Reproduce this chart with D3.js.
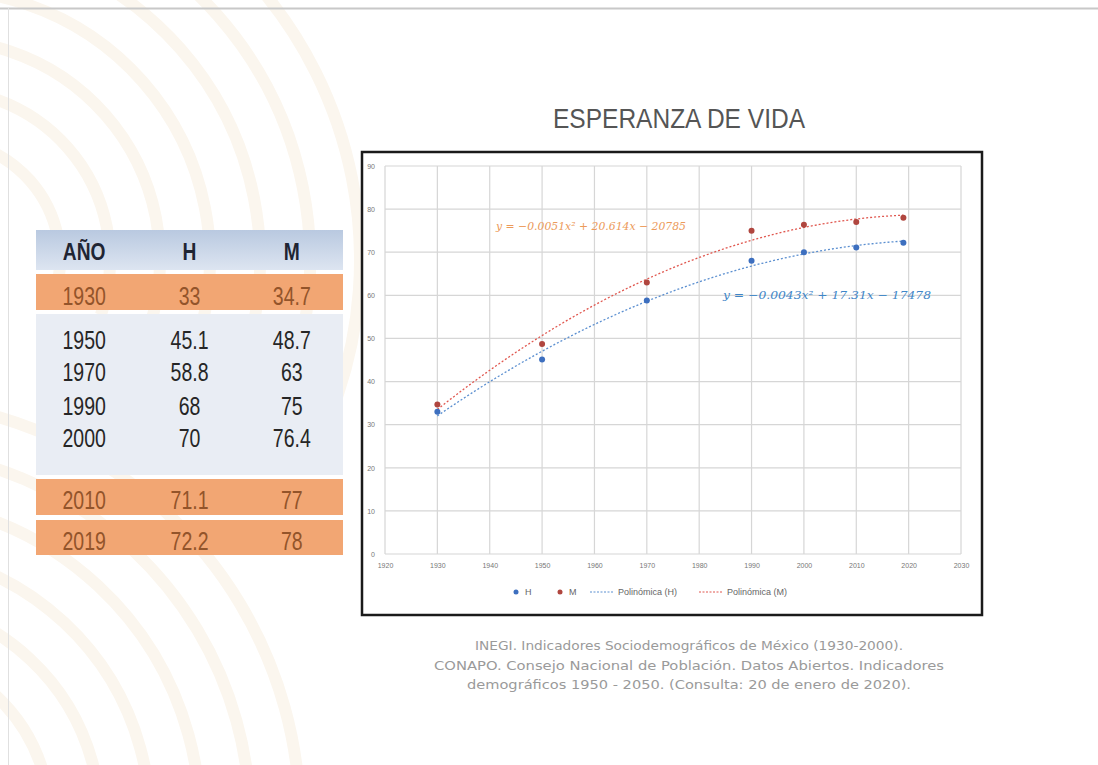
<!DOCTYPE html>
<html><head><meta charset="utf-8">
<script src="https://cdn.jsdelivr.net/npm/d3@7"></script>
<style>body{margin:0;background:#fff;} svg{display:block;}</style>
</head><body>
<svg id="c" width="1098" height="765"></svg>
<script>
const years = [1930, 1950, 1970, 1990, 2000, 2010, 2019];
const valuesH = [33, 45.1, 58.8, 68, 70, 71.1, 72.2];
const valuesM = [34.7, 48.7, 63, 75, 76.4, 77, 78];
const tableHeader = ["AÑO", "H", "M"];
const tableRowStyle = ["orange", "plain", "plain", "plain", "plain", "orange", "orange"];
const xTicks = [1920, 1930, 1940, 1950, 1960, 1970, 1980, 1990, 2000, 2010, 2020, 2030];
const yTicks = [0, 10, 20, 30, 40, 50, 60, 70, 80, 90];
const eqM = "y = −0.0051x² + 20.614x − 20785";
const eqH = "y = −0.0043x² + 17.31x − 17478";
const legendLabels = ["H", "M", "Polinómica (H)", "Polinómica (M)"];
const sourceLines = [
  "INEGI. Indicadores Sociodemográficos de México (1930-2000).",
  "CONAPO. Consejo Nacional de Población. Datos Abiertos. Indicadores",
  "demográficos 1950 - 2050. (Consulta: 20 de enero de 2020)."
];

const svg = d3.select("#c");
const sans = "'Liberation Sans',Arial,sans-serif";

svg.append("rect").attr("x",0).attr("y",0).attr("width",1098).attr("height",765).attr("fill","#fff");
// very faint watermark arcs
const wm = svg.append("g").attr("fill","none").attr("stroke","#fbf6ee").attr("stroke-width",12);
[120,170,220,270,320,370,420].forEach(r=>{
  wm.append("path").attr("d", d3.arc()({innerRadius:r, outerRadius:r, startAngle:-0.2, endAngle:1.9}))
    .attr("transform","translate(-60,260)");
  wm.append("path").attr("d", d3.arc()({innerRadius:r, outerRadius:r, startAngle:0.2, endAngle:2.4}))
    .attr("transform","translate(-120,820)");
});
svg.append("line").attr("x1",0).attr("x2",1098).attr("y1",8.5).attr("y2",8.5).attr("stroke","#c8c8c8").attr("stroke-width",2);
svg.append("line").attr("x1",8.5).attr("x2",8.5).attr("y1",8).attr("y2",765).attr("stroke","#e0e0e0").attr("stroke-width",1);

// condensed text helper
function ctext(g, cx, cy, txt, size, fill, weight, sx) {
  return g.append("text").attr("transform",`translate(${cx},${cy}) scale(${sx},1)`)
    .attr("text-anchor","middle").attr("font-family",sans).attr("font-size",size)
    .attr("font-weight",weight||"normal").attr("fill",fill).text(txt);
}

// title
svg.append("text").attr("x",679).attr("y",128).attr("text-anchor","middle")
  .attr("font-family",sans).attr("font-size",27).attr("fill","#555")
  .attr("textLength",252).attr("lengthAdjust","spacingAndGlyphs").text("ESPERANZA DE VIDA");

// ---- table ----
const tx0 = 36, tx1 = 343;
const colX = d3.scaleBand().domain([0,1,2]).range([tx0, tx1]);
const colC = j => colX(j)+colX.bandwidth()/2 + (j===0?-3:0);
const rowsY = [
  {y0:274,y1:310,t:296},
  {t:340},{t:372},{t:406},{t:438},
  {y0:479,y1:515,t:500},
  {y0:520,y1:555,t:541}
];
const defs = svg.append("defs");
const hg = defs.append("linearGradient").attr("id","hg").attr("x1",0).attr("y1",0).attr("x2",0).attr("y2",1);
hg.append("stop").attr("offset","0").attr("stop-color","#b9c9e0");
hg.append("stop").attr("offset","1").attr("stop-color","#dde5f1");
svg.append("rect").attr("x",tx0).attr("y",230).attr("width",tx1-tx0).attr("height",40).attr("fill","url(#hg)");
svg.append("rect").attr("x",tx0).attr("y",314).attr("width",tx1-tx0).attr("height",161).attr("fill","#e9edf4");
rowsY.forEach((r,i)=>{
  if (tableRowStyle[i]==="orange") {
    svg.append("rect").attr("x",tx0).attr("y",r.y0).attr("width",tx1-tx0).attr("height",r.y1-r.y0).attr("fill","#f2a673");
  }
});
tableHeader.forEach((h,j)=>{
  ctext(svg, colC(j), 260, h, 24, "#1f2533", "bold", 0.8);
});
years.forEach((yr,i)=>{
  const vals = [yr, valuesH[i], valuesM[i]];
  const col = tableRowStyle[i]==="orange" ? "#93542a" : "#262626";
  vals.forEach((v,j)=>{
    ctext(svg, colC(j), rowsY[i].t+9, v, 25, col, "normal", 0.78);
  });
});

// ---- chart ----
svg.append("rect").attr("x",362).attr("y",152).attr("width",620).attr("height",463)
  .attr("fill","#fff").attr("stroke","#1a1a1a").attr("stroke-width",2.5);

const x = d3.scaleLinear().domain([1920, 2030]).range([385, 961]);
const y = d3.scaleLinear().domain([0, 90]).range([554, 166]);

const grid = svg.append("g");
grid.selectAll("line.h").data(yTicks).join("line")
  .attr("x1",x(1920)).attr("x2",x(2030)).attr("y1",d=>y(d)).attr("y2",d=>y(d))
  .attr("stroke","#d6d6d6").attr("stroke-width",1.2);
grid.selectAll("line.v").data(xTicks).join("line")
  .attr("x1",d=>x(d)).attr("x2",d=>x(d)).attr("y1",y(0)).attr("y2",y(90))
  .attr("stroke","#d6d6d6").attr("stroke-width",1.2);

const yAxis = d3.axisLeft(y).tickValues(yTicks).tickSize(0).tickPadding(10);
svg.append("g").attr("transform",`translate(${x(1920)},0)`).call(yAxis)
  .call(g=>g.select(".domain").remove())
  .selectAll("text").attr("font-size",7).attr("fill","#777").attr("font-family",sans);
const xAxis = d3.axisBottom(x).tickValues(xTicks).tickSize(0).tickPadding(9).tickFormat(d3.format("d"));
svg.append("g").attr("transform",`translate(0,${y(0)})`).call(xAxis)
  .call(g=>g.select(".domain").remove())
  .selectAll("text").attr("font-size",7).attr("fill","#777").attr("font-family",sans);

// quadratic least-squares trendline
function fitQuad(xs, ys) {
  const c = 1970;
  let S = [0,0,0,0,0], T = [0,0,0];
  xs.forEach((xv,i)=>{ const u=(xv-c)/10; for(let k=0;k<5;k++) S[k]+=Math.pow(u,k); for(let k=0;k<3;k++) T[k]+=ys[i]*Math.pow(u,k); });
  const A = [[S[0],S[1],S[2],T[0]],[S[1],S[2],S[3],T[1]],[S[2],S[3],S[4],T[2]]];
  for (let i=0;i<3;i++){ for(let j=i+1;j<3;j++){ const f=A[j][i]/A[i][i]; for(let k=i;k<4;k++) A[j][k]-=f*A[i][k]; } }
  const b=[0,0,0];
  for (let i=2;i>=0;i--){ let s=A[i][3]; for(let k=i+1;k<3;k++) s-=A[i][k]*b[k]; b[i]=s/A[i][i]; }
  return xv => { const u=(xv-c)/10; return b[0]+b[1]*u+b[2]*u*u; };
}
const fH = fitQuad(years, valuesH), fM = fitQuad(years, valuesM);
const xs = d3.range(1930, 2019.01, 1);
const line = f => d3.line().x(d=>x(d)).y(d=>y(f(d)))(xs);
svg.append("path").attr("d",line(fH)).attr("fill","none").attr("stroke","#5b8fd0").attr("stroke-width",1.3).attr("stroke-dasharray","2,2");
svg.append("path").attr("d",line(fM)).attr("fill","none").attr("stroke","#e0574f").attr("stroke-width",1.3).attr("stroke-dasharray","2,2");

svg.selectAll("circle.h").data(years).join("circle").attr("cx",d=>x(d)).attr("cy",(d,i)=>y(valuesH[i])).attr("r",3).attr("fill","#3d6fbf");
svg.selectAll("circle.m").data(years).join("circle").attr("cx",d=>x(d)).attr("cy",(d,i)=>y(valuesM[i])).attr("r",3).attr("fill","#b0463f");

// equations
svg.append("text").attr("x",496).attr("y",230).attr("font-family","'DejaVu Serif',serif").attr("font-style","italic")
  .attr("font-size",11).attr("fill","#ec9a5a").attr("textLength",190).attr("lengthAdjust","spacingAndGlyphs").text(eqM);
svg.append("text").attr("x",723).attr("y",299).attr("font-family","'DejaVu Serif',serif").attr("font-style","italic")
  .attr("font-size",11).attr("fill","#3f86c8").attr("textLength",208).attr("lengthAdjust","spacingAndGlyphs").text(eqH);

// legend
const lg = svg.append("g").attr("font-family",sans).attr("font-size",9).attr("fill","#666");
lg.append("circle").attr("cx",516).attr("cy",592).attr("r",2.5).attr("fill","#3d6fbf");
lg.append("text").attr("x",525).attr("y",595).text(legendLabels[0]);
lg.append("circle").attr("cx",560).attr("cy",592).attr("r",2.5).attr("fill","#b0463f");
lg.append("text").attr("x",569).attr("y",595).text(legendLabels[1]);
lg.append("line").attr("x1",590).attr("x2",614).attr("y1",592).attr("y2",592).attr("stroke","#5b8fd0").attr("stroke-width",1).attr("stroke-dasharray","2,1.5");
lg.append("text").attr("x",618).attr("y",595).text(legendLabels[2]);
lg.append("line").attr("x1",699).attr("x2",723).attr("y1",592).attr("y2",592).attr("stroke","#e0574f").attr("stroke-width",1).attr("stroke-dasharray","2,1.5");
lg.append("text").attr("x",727).attr("y",595).text(legendLabels[3]);

// source
const srcW = [428, 510, 444];
sourceLines.forEach((s,i)=>{
  svg.append("text").attr("x",689).attr("y",650+i*19.5).attr("text-anchor","middle")
    .attr("font-family","'DejaVu Sans',sans-serif").attr("font-size",12).attr("fill","#9a9a9a")
    .attr("textLength",srcW[i]).attr("lengthAdjust","spacingAndGlyphs").text(s);
});
</script>
</body></html>
